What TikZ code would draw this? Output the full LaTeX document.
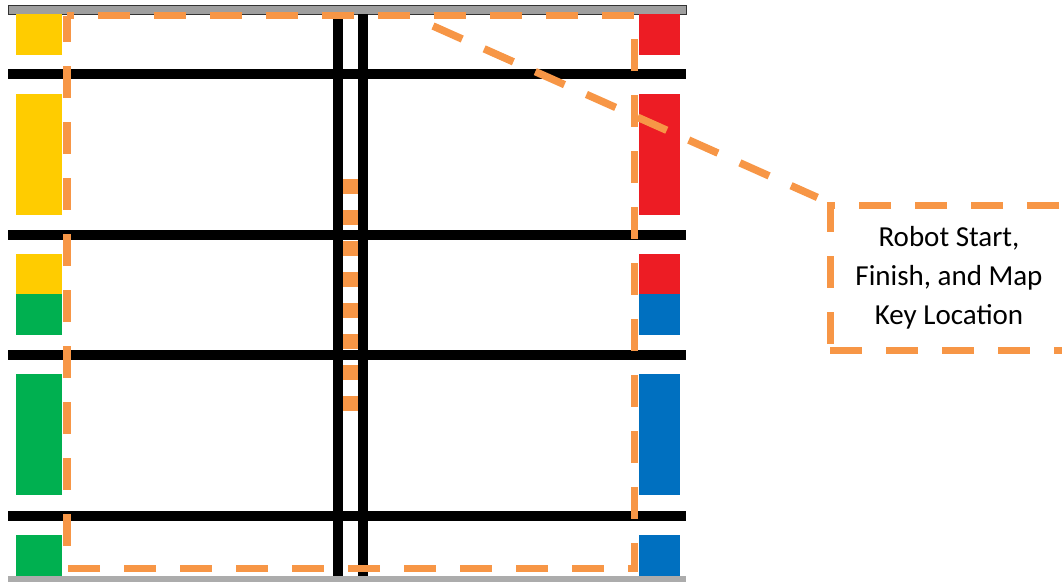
\documentclass[tikz,border=0pt]{standalone}
\usepackage{fontspec}
\setmainfont{Carlito}
\usetikzlibrary{positioning}
\definecolor{zoneorange}{RGB}{247,150,70}
\definecolor{padyellow}{RGB}{255,204,0}
\definecolor{padgreen}{RGB}{0,176,80}
\definecolor{padred}{RGB}{237,28,36}
\definecolor{padblue}{RGB}{0,112,192}

\begin{document}
\begin{tikzpicture}[x=1pt, y=-1pt,
    gridline/.style={line width=10pt, black},
    zoneline/.style={zoneorange, line width=7.5pt, dash pattern=on 32pt off 24pt}]
    \useasboundingbox (0,0) rectangle (1062,582);

    % Walls
    \fill[gray!75, draw=black!80, line width=1pt] (8,5) rectangle (686,14);
    \fill[gray!65] (8,576) rectangle (686,582);

    % Lines
    \foreach \y in {74,234.5,354.5,516} {
        \draw[gridline] (8,\y) -- (686,\y);
    }
    \foreach \x in {338,363} {
        \draw[gridline] (\x,14) -- (\x,576);
    }

    % Pads
    \foreach \ya/\yb/\cl/\cr in {14/55/padyellow/padred, 94/215/padyellow/padred,
        254/294/padyellow/padred, 294/335/padgreen/padblue,
        374/495/padgreen/padblue, 535/576/padgreen/padblue} {
        \fill[\cl] (16,\ya) rectangle (62,\yb);
        \fill[\cr] (639,\ya) rectangle (680,\yb);
    }

    % Zones
    \draw[zoneline, dash phase=25pt] (67,15.5) -- (634.5,15.5) -- (634.5,568.5) -- (67,568.5) -- cycle;
    \draw[zoneorange, line width=15pt, dash pattern=on 15pt off 16pt] (350.5,179) -- (350.5,411);

    % Callout
    \node[zoneline, draw, line width=7pt, text=black, minimum width=238pt, minimum height=145pt,
        align=center, font=\fontsize{29}{39}\selectfont] (keybox) at (949,277.5)
        {Robot Start,\\Finish, and Map\\Key Location};
    \coordinate (tip) at (433,26);
    \draw[zoneline, shorten >=10pt] (tip) -- (keybox.north west);
\end{tikzpicture}
\end{document}
